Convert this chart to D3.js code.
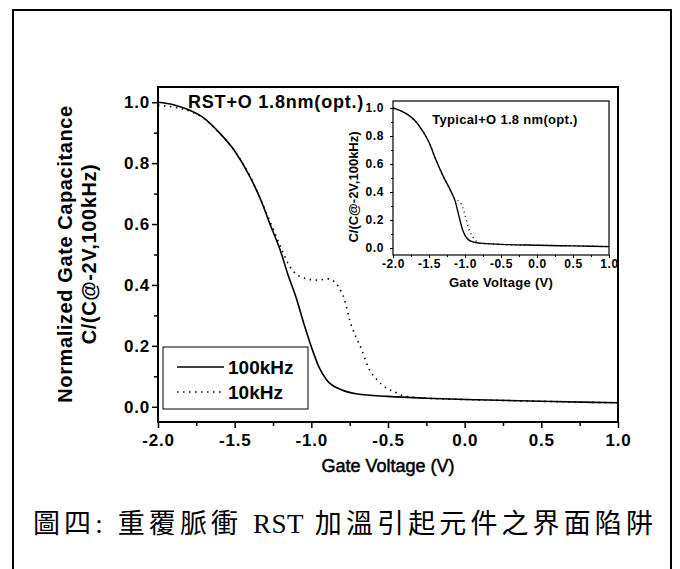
<!DOCTYPE html>
<html>
<head>
<meta charset="utf-8">
<script src="https://cdn.jsdelivr.net/npm/d3@7"></script>
<style>
  body { margin: 0; background: #fff; }
  svg { display: block; }
  text { font-family: "Liberation Sans", Arial, sans-serif; font-weight: bold; fill: #000; }
</style>
</head>
<body>
<div id="chart"></div>
<script>
// main panel: RST+O 1.8nm(opt.)
var mainV100 = [-2.0, -1.9, -1.8, -1.7, -1.6, -1.5, -1.4, -1.33, -1.27, -1.2, -1.15, -1.1, -1.05, -1.0, -0.95, -0.9, -0.8, -0.7, -0.5, -0.25, 0.0, 0.5, 1.0];
var mainC100 = [1.0, 0.992, 0.975, 0.948, 0.9, 0.84, 0.755, 0.68, 0.6, 0.51, 0.43, 0.36, 0.275, 0.197, 0.13, 0.088, 0.055, 0.042, 0.034, 0.028, 0.024, 0.018, 0.013];
var mainV10 = [-2.0, -1.9, -1.8, -1.7, -1.6, -1.5, -1.4, -1.3, -1.2, -1.14, -1.05, -0.96, -0.89, -0.8, -0.77, -0.75, -0.71, -0.67, -0.63, -0.57, -0.52, -0.44, -0.4, -0.25, 0.0, 0.5, 1.0];
var mainC10 = [0.99, 0.984, 0.972, 0.946, 0.899, 0.84, 0.757, 0.645, 0.525, 0.46, 0.423, 0.416, 0.42, 0.374, 0.326, 0.285, 0.23, 0.186, 0.131, 0.088, 0.065, 0.045, 0.036, 0.028, 0.024, 0.018, 0.013];

// inset: Typical+O 1.8 nm(opt.)
var insetV100 = [-2.0, -1.9, -1.8, -1.7, -1.6, -1.5, -1.4, -1.3, -1.2, -1.14, -1.08, -1.04, -1.0, -0.95, -0.9, -0.8, -0.5, 0.0, 0.5, 1.0];
var insetC100 = [1.0, 0.982, 0.955, 0.912, 0.845, 0.755, 0.625, 0.51, 0.41, 0.34, 0.22, 0.14, 0.09, 0.058, 0.045, 0.035, 0.026, 0.02, 0.015, 0.01];
var insetV10 = [-2.0, -1.9, -1.8, -1.7, -1.6, -1.5, -1.4, -1.3, -1.2, -1.14, -1.07, -1.0, -0.95, -0.88, -0.82, -0.8, -0.5, 0.0, 0.5, 1.0];
var insetC10 = [1.0, 0.982, 0.955, 0.912, 0.845, 0.755, 0.625, 0.51, 0.41, 0.35, 0.33, 0.236, 0.14, 0.07, 0.04, 0.035, 0.026, 0.02, 0.015, 0.01];

var xTicks = [-2.0, -1.5, -1.0, -0.5, 0.0, 0.5, 1.0];
var yTicks = [0.0, 0.2, 0.4, 0.6, 0.8, 1.0];
var legendLabels = ["100kHz", "10kHz"];
var mainTitle = "RST+O 1.8nm(opt.)";
var insetTitle = "Typical+O 1.8 nm(opt.)";
var xTitle = "Gate Voltage (V)";
var yTitle1 = "Normalized Gate Capacitance";
var yTitle2 = "C/(C@-2V,100kHz)";
var captionParts = ["圖四:", " 重覆脈衝 ", "RST", " 加溫引起元件之界面陷阱"];

var svg = d3.select("#chart").append("svg")
    .attr("width", 680)
    .attr("height", 569);

// page frame (open at the bottom)
svg.append("path")
    .attr("d", "M13,569 L13,10 L671,10 L671,569")
    .attr("fill", "none")
    .attr("stroke", "#000")
    .attr("stroke-width", 2);

function zip(xs, ys) {
  return xs.map(function(v, i){ return [v, ys[i]]; });
}

function fmt(d) {
  return d3.format(".1f")(d).replace("\u2212", "-");
}

function panel(opt) {
  var x = d3.scaleLinear().domain([-2, 1]).range([opt.left, opt.right]);
  var y = d3.scaleLinear().domain([-0.05, 1.05]).range([opt.bottom, opt.top]);
  var g = svg.append("g");

  var line = d3.line()
      .curve(d3.curveMonotoneX)
      .x(function(d){ return x(d[0]); })
      .y(function(d){ return y(d[1]); });

  g.append("path")
      .datum(zip(opt.v10, opt.c10))
      .attr("d", line)
      .attr("fill", "none")
      .attr("stroke", "#000")
      .attr("stroke-width", opt.lw)
      .attr("stroke-dasharray", opt.dash);

  g.append("path")
      .datum(zip(opt.v100, opt.c100))
      .attr("d", line)
      .attr("fill", "none")
      .attr("stroke", "#000")
      .attr("stroke-width", opt.lw);

  // frame
  g.append("rect")
      .attr("x", opt.left).attr("y", opt.top)
      .attr("width", opt.right - opt.left)
      .attr("height", opt.bottom - opt.top)
      .attr("fill", "none")
      .attr("stroke", "#000")
      .attr("stroke-width", opt.frame);

  // minor ticks
  g.append("g")
      .attr("transform", "translate(0," + opt.bottom + ")")
      .call(d3.axisBottom(x).tickValues(d3.range(-1.75, 1, 0.5)).tickSize(opt.minor).tickFormat(""))
      .call(function(a){ a.select(".domain").remove(); });
  g.append("g")
      .attr("transform", "translate(" + opt.left + ",0)")
      .call(d3.axisLeft(y).tickValues(d3.range(0.1, 1, 0.2)).tickSize(opt.minor).tickFormat(""))
      .call(function(a){ a.select(".domain").remove(); });

  // major ticks
  var xa = g.append("g")
      .attr("transform", "translate(0," + opt.bottom + ")")
      .call(d3.axisBottom(x).tickValues(xTicks).tickSize(opt.major).tickPadding(opt.padX).tickFormat(fmt));
  xa.select(".domain").remove();
  xa.selectAll("text").style("font-size", opt.fs + "px").style("letter-spacing", opt.ls + "px")
      .attr("font-family", null).attr("fill", "#000");

  var ya = g.append("g")
      .attr("transform", "translate(" + opt.left + ",0)")
      .call(d3.axisLeft(y).tickValues(yTicks).tickSize(opt.major).tickPadding(opt.padY).tickFormat(fmt));
  ya.select(".domain").remove();
  ya.selectAll("text").style("font-size", opt.fs + "px").style("letter-spacing", opt.ls + "px")
      .attr("font-family", null).attr("fill", "#000");

  g.selectAll(".tick line").attr("stroke-width", opt.tickW);
  return {x: x, y: y, g: g};
}

var main = panel({
  left: 158, right: 618, top: 87, bottom: 422,
  v100: mainV100, c100: mainC100, v10: mainV10, c10: mainC10,
  lw: 1.6, dash: "1.5,4.5", frame: 2, major: 6, minor: 4, padX: 6, padY: 2, fs: 17, ls: 0.8, tickW: 1.5
});

// clear inset area of the main curves
svg.append("rect")
    .attr("x", 366).attr("y", 95).attr("width", 250).attr("height", 200)
    .attr("fill", "#fff");

var inset = panel({
  left: 393, right: 609, top: 101, bottom: 255,
  v100: insetV100, c100: insetC100, v10: insetV10, c10: insetC10,
  lw: 1.4, dash: "1,3.5", frame: 1.2, major: 3, minor: 2, padX: 1, padY: 6, fs: 12, ls: 0.6, tickW: 1
});

// titles
svg.append("text")
    .attr("x", 188).attr("y", 108)
    .style("font-size", "18px")
    .style("letter-spacing", "0.8px")
    .text(mainTitle);

svg.append("text")
    .attr("x", 505).attr("y", 124)
    .attr("text-anchor", "middle")
    .style("font-size", "13px")
    .style("letter-spacing", "0.3px")
    .text(insetTitle);

// axis titles
svg.append("text")
    .attr("x", 388).attr("y", 472)
    .attr("text-anchor", "middle")
    .style("font-size", "18px")
    .style("font-weight", "normal")
    .style("stroke", "#000").style("stroke-width", 0.5)
    .text(xTitle);

svg.append("text")
    .attr("transform", "translate(72,254) rotate(-90)")
    .attr("text-anchor", "middle")
    .style("font-size", "20px")
    .style("letter-spacing", "0.6px")
    .text(yTitle1);

svg.append("text")
    .attr("transform", "translate(96,254) rotate(-90)")
    .attr("text-anchor", "middle")
    .style("font-size", "20px")
    .style("letter-spacing", "0.6px")
    .text(yTitle2);

svg.append("text")
    .attr("x", 501).attr("y", 287)
    .attr("text-anchor", "middle")
    .style("font-size", "13px")
    .style("letter-spacing", "0.3px")
    .text(xTitle);

svg.append("text")
    .attr("transform", "translate(358,187) rotate(-90)")
    .attr("text-anchor", "middle")
    .style("font-size", "13px")
    .text(yTitle2);

// legend
var lg = svg.append("g");
lg.append("rect")
    .attr("x", 163).attr("y", 347).attr("width", 145).attr("height", 62)
    .attr("fill", "#fff")
    .attr("stroke", "#000")
    .attr("stroke-width", 1);

var legendY = d3.scalePoint().domain(legendLabels).range([367, 392]);
legendLabels.forEach(function(name, i) {
  lg.append("line")
      .attr("x1", 177).attr("x2", 224)
      .attr("y1", legendY(name)).attr("y2", legendY(name))
      .attr("stroke", "#000")
      .attr("stroke-width", 1.5)
      .attr("stroke-dasharray", i == 0 ? null : "1.5,4.5");
  lg.append("text")
      .attr("x", 228).attr("y", legendY(name) + 7)
      .style("font-size", "19px")
      .text(name);
});

// caption: CJK runs spread out, "RST" kept tight
var cap = svg.append("text")
    .attr("x", 33).attr("y", 533)
    .style("font-family", "'Liberation Serif', 'Noto Sans CJK TC', serif")
    .style("font-weight", "normal")
    .style("font-size", "27px");
var spans = cap.selectAll("tspan").data(captionParts).enter().append("tspan")
    .text(function(d){ return d; });
var natural = cap.node().getComputedTextLength();
var spreadChars = captionParts[0].length + captionParts[1].length + captionParts[3].length;
var ls = (622 - natural) / spreadChars;
spans.style("letter-spacing", function(d, i){ return i == 2 ? "0.5px" : ls + "px"; });
</script>
</body>
</html>
